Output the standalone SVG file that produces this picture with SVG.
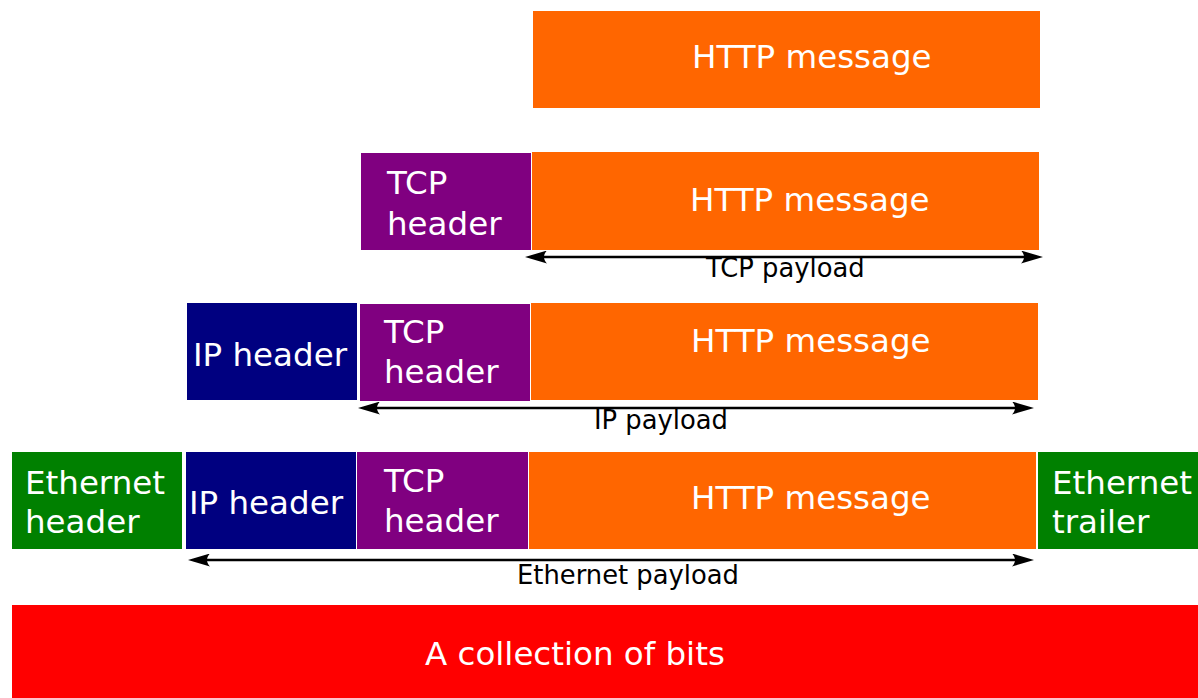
<svg xmlns="http://www.w3.org/2000/svg" width="1198" height="698" viewBox="0 0 1198 698">
<style>
.lbl{font-family:"DejaVu Sans","Liberation Sans",sans-serif;font-size:32.5px;fill:#ffffff}
.sm{font-family:"DejaVu Sans","Liberation Sans",sans-serif;font-size:25.8px;fill:#000000}
.http{fill:#ff6600}
.tcp{fill:#800080}
.ip{fill:#000080}
.eth{fill:#008000}
.bits{fill:#ff0000}
.arr{stroke:#000000;stroke-width:2.5;fill:none;marker-start:url(#ah);marker-end:url(#ah)}
</style>
<defs>
<marker id="ah" viewBox="0 0 22 13" refX="12" refY="6.5" markerWidth="22" markerHeight="13" markerUnits="userSpaceOnUse" orient="auto-start-reverse">
<path d="M22,6.5 L0,0 C4,4 4,9 0,13 Z" fill="#000000"/>
</marker>
</defs>
<rect width="1198" height="698" fill="#ffffff"/>

<g id="row1-http">
<rect class="http" x="533" y="11" width="507" height="97"/>
<text class="lbl" x="692" y="67.5">HTTP message</text>
</g>

<g id="row2-tcp">
<rect class="tcp" x="361" y="153" width="170" height="97"/>
<text class="lbl" x="387" y="194">TCP</text>
<text class="lbl" x="387" y="235">header</text>
</g>
<g id="row2-http">
<rect class="http" x="532" y="152" width="507" height="98"/>
<text class="lbl" x="690" y="211">HTTP message</text>
</g>

<g id="row3-ip">
<rect class="ip" x="187" y="303" width="170" height="97"/>
<text class="lbl" x="193" y="366">IP header</text>
</g>
<g id="row3-tcp">
<rect class="tcp" x="360" y="304" width="170" height="97"/>
<text class="lbl" x="384" y="343">TCP</text>
<text class="lbl" x="384" y="383">header</text>
</g>
<g id="row3-http">
<rect class="http" x="531" y="303" width="507" height="97"/>
<text class="lbl" x="691" y="352">HTTP message</text>
</g>

<g id="row4-eth-header">
<rect class="eth" x="12" y="452" width="170" height="97"/>
<text class="lbl" x="25" y="494">Ethernet</text>
<text class="lbl" x="25" y="533">header</text>
</g>
<g id="row4-ip">
<rect class="ip" x="186" y="452" width="170" height="97"/>
<text class="lbl" x="189" y="514">IP header</text>
</g>
<g id="row4-tcp">
<rect class="tcp" x="357" y="452" width="171" height="97"/>
<text class="lbl" x="384" y="492">TCP</text>
<text class="lbl" x="384" y="532">header</text>
</g>
<g id="row4-http">
<rect class="http" x="529" y="452" width="507" height="97"/>
<text class="lbl" x="691" y="509">HTTP message</text>
</g>
<g id="row4-eth-trailer">
<rect class="eth" x="1038" y="452" width="160" height="97"/>
<text class="lbl" x="1052" y="494">Ethernet</text>
<text class="lbl" x="1052" y="533">trailer</text>
</g>

<g id="bits">
<rect class="bits" x="12" y="605" width="1186" height="93"/>
<text class="lbl" x="425" y="664.5">A collection of bits</text>
</g>

<g id="connectors">
<path class="arr" d="M535,257 H1033"/>
<path class="arr" d="M368,408 H1024"/>
<path class="arr" d="M198,560 H1024"/>
<text class="sm" x="706" y="277">TCP payload</text>
<text class="sm" x="594" y="429">IP payload</text>
<text class="sm" x="517" y="584">Ethernet payload</text>
</g>
</svg>
